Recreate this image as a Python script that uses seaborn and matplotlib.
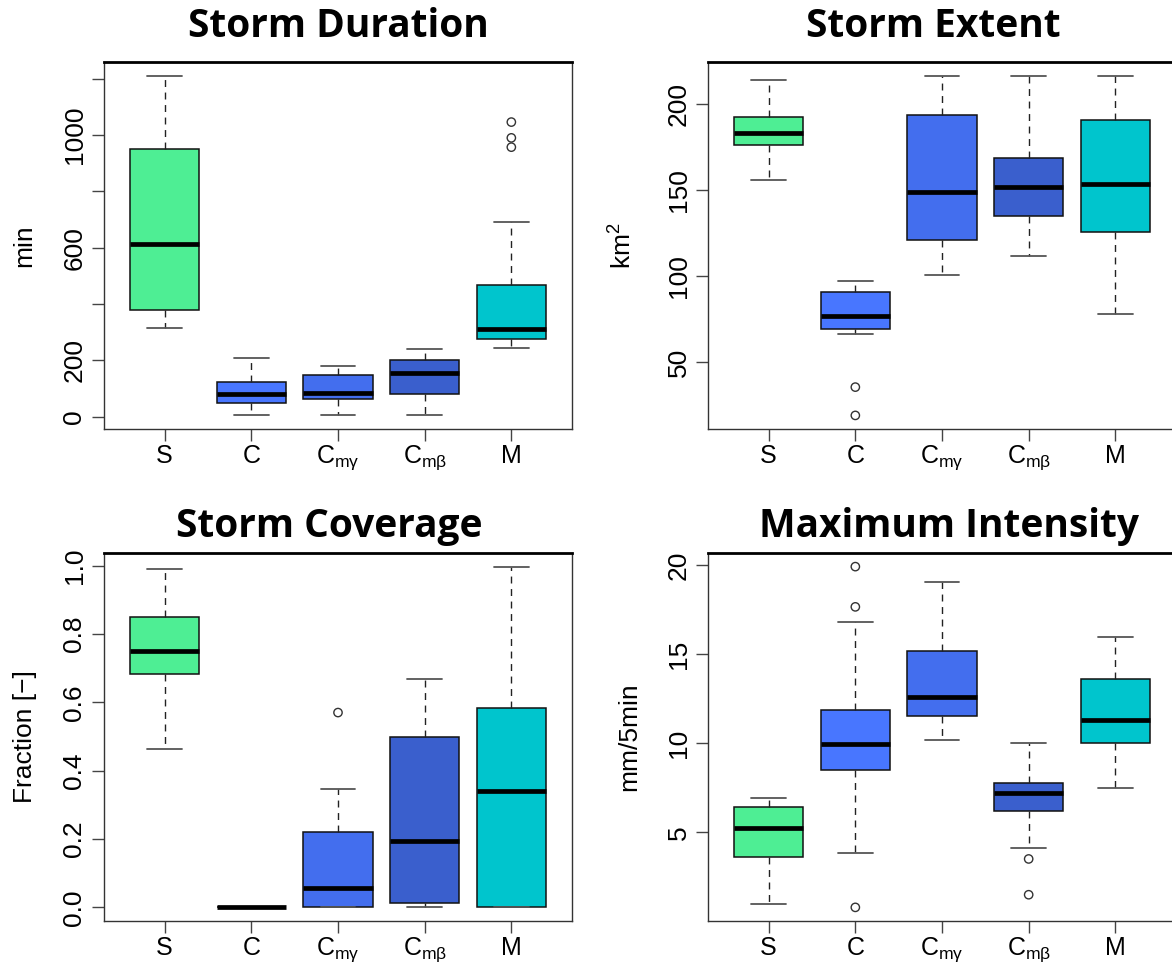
import numpy as np
import pandas as pd
import matplotlib
matplotlib.use("Agg")
import matplotlib.pyplot as plt
import seaborn as sns

# ---------------- data ----------------
categories = ["S", "C", "Cmγ", "Cmβ", "M"]
tick_labels = ["S", "C", r"C$_{\mathregular{mγ}}$", r"C$_{\mathregular{mβ}}$", "M"]
box_colors = ["#4EEE94", "#4876FF", "#436EEE", "#3A5FCD", "#00C5CD"]

# five-number summaries: [lower whisker, Q1, median, Q3, upper whisker]
duration_S = [315, 380, 615, 949, 1211]
duration_C = [5, 50, 80, 125, 210]
duration_Cmg = [5, 65, 84, 148, 179]
duration_Cmb = [5, 80, 155, 201, 240]
duration_M = [246, 276, 312, 468, 692]
duration_out = {"M": [957, 990, 1046]}

extent_S = [155.7, 176.1, 182.8, 192.3, 213.5]
extent_C = [66.6, 69.3, 76.6, 90.7, 96.9]
extent_Cmg = [100.5, 120.6, 148.5, 193.4, 216.2]
extent_Cmb = [111.7, 135.0, 151.8, 168.2, 216.2]
extent_M = [78.0, 125.4, 153.2, 190.2, 216.2]
extent_out = {"C": [35.6, 19.2]}

coverage_S = [0.462, 0.684, 0.750, 0.851, 0.990]
coverage_C = [0.0, 0.0, 0.0, 0.0, 0.0]
coverage_Cmg = [0.0, 0.0, 0.058, 0.220, 0.346]
coverage_Cmb = [0.0, 0.012, 0.193, 0.499, 0.669]
coverage_M = [0.0, 0.0, 0.340, 0.583, 0.997]
coverage_out = {"Cmγ": [0.570]}

intensity_S = [0.99, 3.59, 5.26, 6.42, 6.93]
intensity_C = [3.82, 8.49, 9.93, 11.88, 16.81]
intensity_Cmg = [10.16, 11.51, 12.61, 15.20, 19.08]
intensity_Cmb = [4.12, 6.18, 7.21, 7.76, 9.99]
intensity_M = [7.49, 10.04, 11.32, 13.59, 15.95]
intensity_out = {"C": [19.92, 17.66, 0.78], "Cmβ": [3.50, 1.49]}

titles = ["Storm Duration", "Storm Extent", "Storm Coverage", "Maximum Intensity"]
ylabels = ["min", r"km$^{\mathregular{2}}$", "Fraction [\u2212]", "mm/5min"]
yticks = [[0, 200, 400, 600, 800, 1000, 1200], [50, 100, 150, 200],
          [0.0, 0.2, 0.4, 0.6, 0.8, 1.0], [5, 10, 15, 20]]
yticklabels = [["0", "200", "", "600", "", "1000", ""], ["50", "100", "150", "200"],
               ["0.0", "0.2", "0.4", "0.6", "0.8", "1.0"], ["5", "10", "15", "20"]]

panels_five = [
    [duration_S, duration_C, duration_Cmg, duration_Cmb, duration_M],
    [extent_S, extent_C, extent_Cmg, extent_Cmb, extent_M],
    [coverage_S, coverage_C, coverage_Cmg, coverage_Cmb, coverage_M],
    [intensity_S, intensity_C, intensity_Cmg, intensity_Cmb, intensity_M],
]
panels_out = [duration_out, extent_out, coverage_out, intensity_out]

# ---------------- style ----------------
sns.set_style("ticks")
plt.rcParams["font.family"] = ["Liberation Sans", "DejaVu Sans"]
plt.rcParams["mathtext.fontset"] = "custom"
plt.rcParams["mathtext.rm"] = "Liberation Sans"
plt.rcParams["mathtext.it"] = "Liberation Sans:italic"
plt.rcParams["mathtext.bf"] = "Liberation Sans:bold"
plt.rcParams["text.color"] = "black"
plt.rcParams["axes.labelcolor"] = "black"

W, H = 1172, 963
fig = plt.figure(figsize=(W / 100, H / 100), dpi=100)

# axes rectangles in pixels: left, top, width, height
rects = [(104, 62, 468, 367), (708, 62, 468, 367),
         (104, 553, 468, 368), (708, 553, 468, 368)]
title_pos = [(338, 37), (933, 37), (329, 536.5), (949, 537)]
ylabel_x = [-0.170, -0.182, -0.169, -0.169]

for i in range(4):
    l, t, w, h = rects[i]
    ax = fig.add_axes([l / W, 1 - (t + h) / H, w / W, h / H])

    rows = []
    for cat, vals in zip(categories, panels_five[i]):
        for v in vals:
            rows.append((cat, v))
    df = pd.DataFrame(rows, columns=["group", "value"])

    sns.boxplot(data=df, x="group", y="value", hue="group", order=categories,
                hue_order=categories, palette=box_colors, legend=False,
                whis=(0, 100), width=0.8, saturation=1, showfliers=False,
                linecolor="#111111", linewidth=1.1,
                medianprops=dict(color="black", linewidth=3.4, solid_capstyle="butt"),
                whiskerprops=dict(color="#222222", linewidth=1.0, linestyle=(0, (5, 4))),
                capprops=dict(color="#555555", linewidth=1.3),
                ax=ax)

    orows = []
    for cat, vals in panels_out[i].items():
        for v in vals:
            orows.append((cat, v))
    odf = pd.DataFrame(orows, columns=["group", "value"])
    sns.stripplot(data=odf, x="group", y="value", order=categories, jitter=False,
                  size=6, marker="o", facecolor="none", edgecolor="#333333",
                  linewidth=1.0, ax=ax)

    allv = np.concatenate([np.ravel(panels_five[i])] +
                          [np.asarray(v, float) for v in panels_out[i].values()])
    lo, hi = allv.min(), allv.max()
    pad = 0.04 * (hi - lo)
    ax.set_ylim(lo - pad, hi + pad)
    ax.set_xlim(-0.7, 4.7)

    ax.set_xticks(range(5))
    ax.set_xticklabels(tick_labels)
    ax.set_yticks(yticks[i])
    ax.set_yticklabels(yticklabels[i])
    ax.set_xlabel("")
    ax.tick_params(axis="both", length=8.6, width=1.0, color="#444444",
                   labelsize=18, labelcolor="black")
    ax.tick_params(axis="x", pad=2)
    ax.tick_params(axis="y", pad=4, labelrotation=90, labelsize=19)
    for lab in ax.get_yticklabels():
        lab.set_verticalalignment("center")

    ax.set_ylabel(ylabels[i], fontsize=19, color="black")
    ax.yaxis.label.set_verticalalignment("center")
    ax.yaxis.set_label_coords(ylabel_x[i], 0.5)

    for side in ["left", "bottom", "right"]:
        ax.spines[side].set_visible(True)
        ax.spines[side].set_color("#333333")
        ax.spines[side].set_linewidth(1.0)
    ax.spines["top"].set_visible(True)
    ax.spines["top"].set_color("black")
    ax.spines["top"].set_linewidth(2.0)

    tx, ty = title_pos[i]
    fig.text(tx / W, 1 - ty / H, titles[i], ha="center", va="baseline",
             fontsize=28, fontweight="bold", color="black",
             family=["Open Sans", "DejaVu Sans"])

fig.savefig("out.png", dpi=100)
